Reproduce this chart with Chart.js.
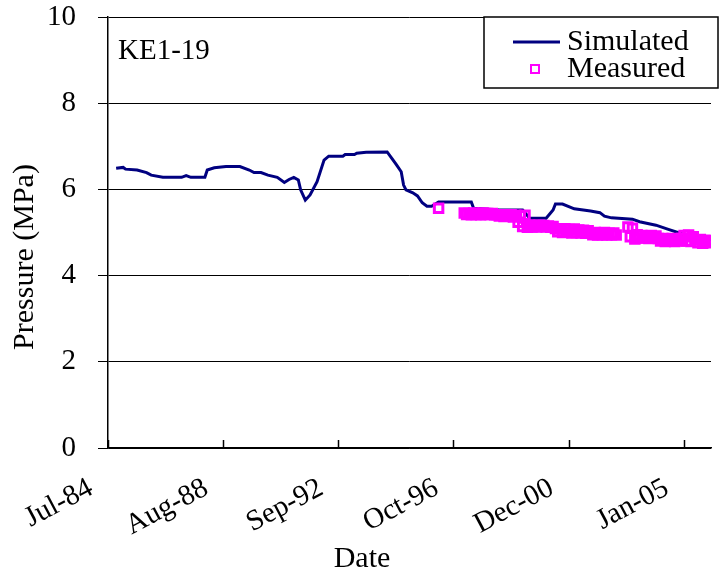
<!DOCTYPE html>
<html>
<head>
<meta charset="utf-8">
<title>KE1-19 pressure history</title>
<script src="https://cdn.jsdelivr.net/npm/chart.js@4.4.1/dist/chart.umd.min.js"></script>
<style>
    html, body { margin: 0; padding: 0; background: #fff; }
    canvas { display: block; }
</style>
</head>
<body>
<canvas id="pressureChart" width="720" height="577"></canvas>
<script>
// dates are year-month, plotted as days since 1 Jul 1984
const wellName = 'KE1-19';
const xTitle = 'Date';
const yTitle = 'Pressure (MPa)';

const simulatedDates = [
    '1984-10', '1985-01', '1985-02', '1985-07', '1985-11', '1986-01', '1986-06', '1987-02', '1987-04', '1987-06',
    '1987-12', '1988-01', '1988-04', '1988-09', '1989-03', '1989-07', '1989-09', '1989-12', '1990-03', '1990-07',
    '1990-10', '1990-12', '1991-02', '1991-04', '1991-05', '1991-07', '1991-09', '1991-12', '1992-03', '1992-05',
    '1992-11', '1992-12', '1993-04', '1993-05', '1993-09', '1994-06', '1994-08', '1994-10', '1994-12', '1995-01',
    '1995-02', '1995-05', '1995-07', '1995-09', '1995-11', '1996-01', '1996-04', '1997-06', '1997-07', '1998-06',
    '1999-04', '1999-07', '2000-02', '2000-05', '2000-06', '2000-09', '2001-02', '2001-09', '2002-01', '2002-03',
    '2002-06', '2003-03', '2003-06', '2004-01', '2004-06', '2004-12', '2005-05', '2005-12', '2006-01',
];
const simulatedValues = [
    6.49, 6.51, 6.47, 6.45, 6.39, 6.33, 6.28, 6.28, 6.32, 6.28,
    6.28, 6.45, 6.50, 6.53, 6.53, 6.45, 6.39, 6.39, 6.33, 6.28,
    6.16, 6.23, 6.28, 6.22, 5.99, 5.75, 5.87, 6.18, 6.68, 6.77,
    6.77, 6.81, 6.81, 6.84, 6.86, 6.87, 6.72, 6.57, 6.41, 6.10,
    5.99, 5.92, 5.85, 5.69, 5.61, 5.61, 5.71, 5.71, 5.56, 5.52,
    5.52, 5.33, 5.33, 5.52, 5.66, 5.66, 5.55, 5.50, 5.46, 5.38,
    5.34, 5.31, 5.25, 5.17, 5.08, 4.97, 4.90, 4.85, 4.84,
];

const measuredDates = [
    '1996-04',
    '1997-03', '1997-04', '1997-05', '1997-06', '1997-07', '1997-08', '1997-09', '1997-10', '1997-11', '1997-12',
    '1998-01', '1998-02', '1998-03', '1998-04', '1998-05', '1998-06', '1998-07', '1998-08', '1998-09', '1998-10', '1998-11', '1998-12',
    '1999-01', '1999-02', '1999-03', '1999-04', '1999-05', '1999-06', '1999-07', '1999-08', '1999-09', '1999-10', '1999-11', '1999-12',
    '2000-01', '2000-02', '2000-03', '2000-04', '2000-05', '2000-06', '2000-07', '2000-08', '2000-09', '2000-10', '2000-11', '2000-12',
    '2001-01', '2001-02', '2001-03', '2001-04', '2001-05', '2001-06', '2001-07', '2001-08', '2001-09', '2001-10', '2001-11', '2001-12',
    '2002-01', '2002-02', '2002-03', '2002-04', '2002-05', '2002-06', '2002-07', '2002-08',
    '2003-01', '2003-02', '2003-03', '2003-04', '2003-05', '2003-06', '2003-07', '2003-08', '2003-09', '2003-10', '2003-11', '2003-12',
    '2004-01', '2004-02', '2004-03', '2004-04', '2004-05', '2004-06', '2004-07', '2004-08', '2004-09', '2004-10', '2004-11', '2004-12',
    '2005-01', '2005-02', '2005-03', '2005-04', '2005-05', '2005-06', '2005-07', '2005-08', '2005-09', '2005-10', '2005-11', '2005-12',
];
const measuredValues = [
    5.56,
    5.45, 5.42, 5.44, 5.41, 5.45, 5.42, 5.44, 5.41, 5.45, 5.42,
    5.44, 5.42, 5.44, 5.41, 5.41, 5.38, 5.41, 5.37, 5.40, 5.38, 5.41, 5.36,
    5.40, 5.24, 5.39, 5.14, 5.40, 5.12, 5.17, 5.13, 5.16, 5.13, 5.17, 5.14,
    5.16, 5.13, 5.15, 5.12, 5.14, 5.09, 5.02, 5.08, 5.00, 5.09, 5.01, 5.07,
    4.99, 5.08, 5.00, 5.06, 4.99, 5.05, 4.98, 5.04, 4.99, 4.95, 5.00, 4.94,
    4.99, 4.95, 5.00, 4.94, 4.98, 4.95, 4.99, 4.94,
    5.13, 4.90, 5.10, 4.85, 4.95, 4.87, 4.93, 4.87, 4.92, 4.86, 4.93, 4.87,
    4.92, 4.86, 4.80, 4.86, 4.79, 4.85, 4.80, 4.86, 4.79, 4.85, 4.80, 4.86,
    4.93, 4.80, 4.94, 4.79, 4.90, 4.83, 4.76, 4.84, 4.75, 4.82, 4.76, 4.81,
];

const tickDays = [0, 1500, 3000, 4500, 6000, 7500];
const tickLabels = ['Jul-84', 'Aug-88', 'Sep-92', 'Oct-96', 'Dec-00', 'Jan-05'];

const START = Date.UTC(1984, 6, 1);
const DAY = 86400000;
const toDays = (ym) => {
    const [y, m] = ym.split('-').map(Number);
    return (Date.UTC(y, m - 1, 15) - START) / DAY;
};
const pairs = (dates, values) => dates.map((d, i) => ({ x: toDays(d), y: values[i] }));

const SERIF = '"Liberation Serif", "Times New Roman", serif';
const NAVY = '#000080';
const MAGENTA = '#ff00ff';

// axis titles, legend box, well label and inward x ticks
const extras = {
    id: 'extras',
    afterDraw(chart) {
        const { ctx, chartArea } = chart;
        const xScale = chart.scales.x;
        ctx.save();

        ctx.strokeStyle = '#000';
        ctx.lineWidth = 1.5;
        xScale.ticks.forEach((t) => {
            const px = Math.round(xScale.getPixelForValue(t.value)) + 0.5;
            ctx.beginPath();
            ctx.moveTo(px, chartArea.bottom);
            ctx.lineTo(px, chartArea.bottom - 8);
            ctx.stroke();
        });

        ctx.fillStyle = '#000';
        ctx.textBaseline = 'middle';
        ctx.textAlign = 'center';
        ctx.font = `30px ${SERIF}`;
        ctx.fillText(xTitle, 362, 559);
        ctx.save();
        ctx.translate(25, 257);
        ctx.rotate(-Math.PI / 2);
        ctx.fillText(yTitle, 0, 0);
        ctx.restore();

        ctx.textAlign = 'left';
        ctx.font = `29px ${SERIF}`;
        ctx.fillText(wellName, 118, 51);

        const box = { x: 484, y: 17, w: 234, h: 71 };
        ctx.fillStyle = '#fff';
        ctx.fillRect(box.x, box.y, box.w, box.h);
        ctx.strokeStyle = '#000';
        ctx.lineWidth = 1.5;
        ctx.strokeRect(box.x, box.y, box.w, box.h);

        const [sim, meas] = chart.data.datasets;
        ctx.strokeStyle = sim.borderColor;
        ctx.lineWidth = sim.borderWidth;
        ctx.beginPath();
        ctx.moveTo(513, 42);
        ctx.lineTo(560, 42);
        ctx.stroke();

        ctx.strokeStyle = meas.borderColor;
        ctx.lineWidth = 2;
        ctx.strokeRect(531, 65, 8, 8);

        ctx.fillStyle = '#000';
        ctx.font = `30px ${SERIF}`;
        ctx.fillText(sim.label, 567, 42);
        ctx.fillText(meas.label, 567, 69);
        ctx.restore();
    },
};

new Chart(document.getElementById('pressureChart'), {
    type: 'line',
    data: {
        datasets: [
            {
                label: 'Simulated',
                data: pairs(simulatedDates, simulatedValues),
                borderColor: NAVY,
                borderWidth: 3,
                pointRadius: 0,
                tension: 0,
                order: 1,
            },
            {
                label: 'Measured',
                data: pairs(measuredDates, measuredValues),
                showLine: false,
                pointStyle: 'rect',
                pointRadius: 6,
                borderWidth: 3,
                borderColor: MAGENTA,
                backgroundColor: 'rgba(0,0,0,0)',
                order: 0,
            },
        ],
    },
    options: {
        responsive: false,
        animation: false,
        layout: { padding: { top: 17, right: 0, bottom: 0, left: 0 } },
        plugins: { legend: { display: false }, tooltip: { enabled: false } },
        scales: {
            x: {
                type: 'linear',
                min: 0,
                max: (Date.UTC(2006, 0, 1) - START) / DAY,
                afterBuildTicks: (scale) => {
                    scale.ticks = tickDays.map((v) => ({ value: v }));
                },
                afterFit: (scale) => {
                    scale.height = 129;
                    // plot runs right up to the canvas edge
                    scale.paddingLeft = 0;
                    scale.paddingRight = 0;
                },
                ticks: {
                    autoSkip: false,
                    minRotation: 28,
                    maxRotation: 28,
                    padding: 23,
                    labelOffset: -17,
                    color: '#000',
                    font: { family: SERIF, size: 29 },
                    callback: (value, index) => tickLabels[index],
                },
                grid: { drawOnChartArea: false, drawTicks: false },
                border: { color: '#000', width: 1.5 },
            },
            y: {
                min: 0,
                max: 10,
                afterFit: (scale) => {
                    scale.width = 108;
                    // labels sit beside the gridlines, so no extra room above or below
                    scale.paddingTop = 0;
                    scale.paddingBottom = 0;
                },
                ticks: {
                    stepSize: 2,
                    padding: 22,
                    color: '#000',
                    font: { family: SERIF, size: 29 },
                },
                grid: { color: '#000', lineWidth: 1, tickLength: 10 },
                border: { color: '#000', width: 1.5 },
            },
        },
    },
    plugins: [extras],
});
</script>
</body>
</html>
